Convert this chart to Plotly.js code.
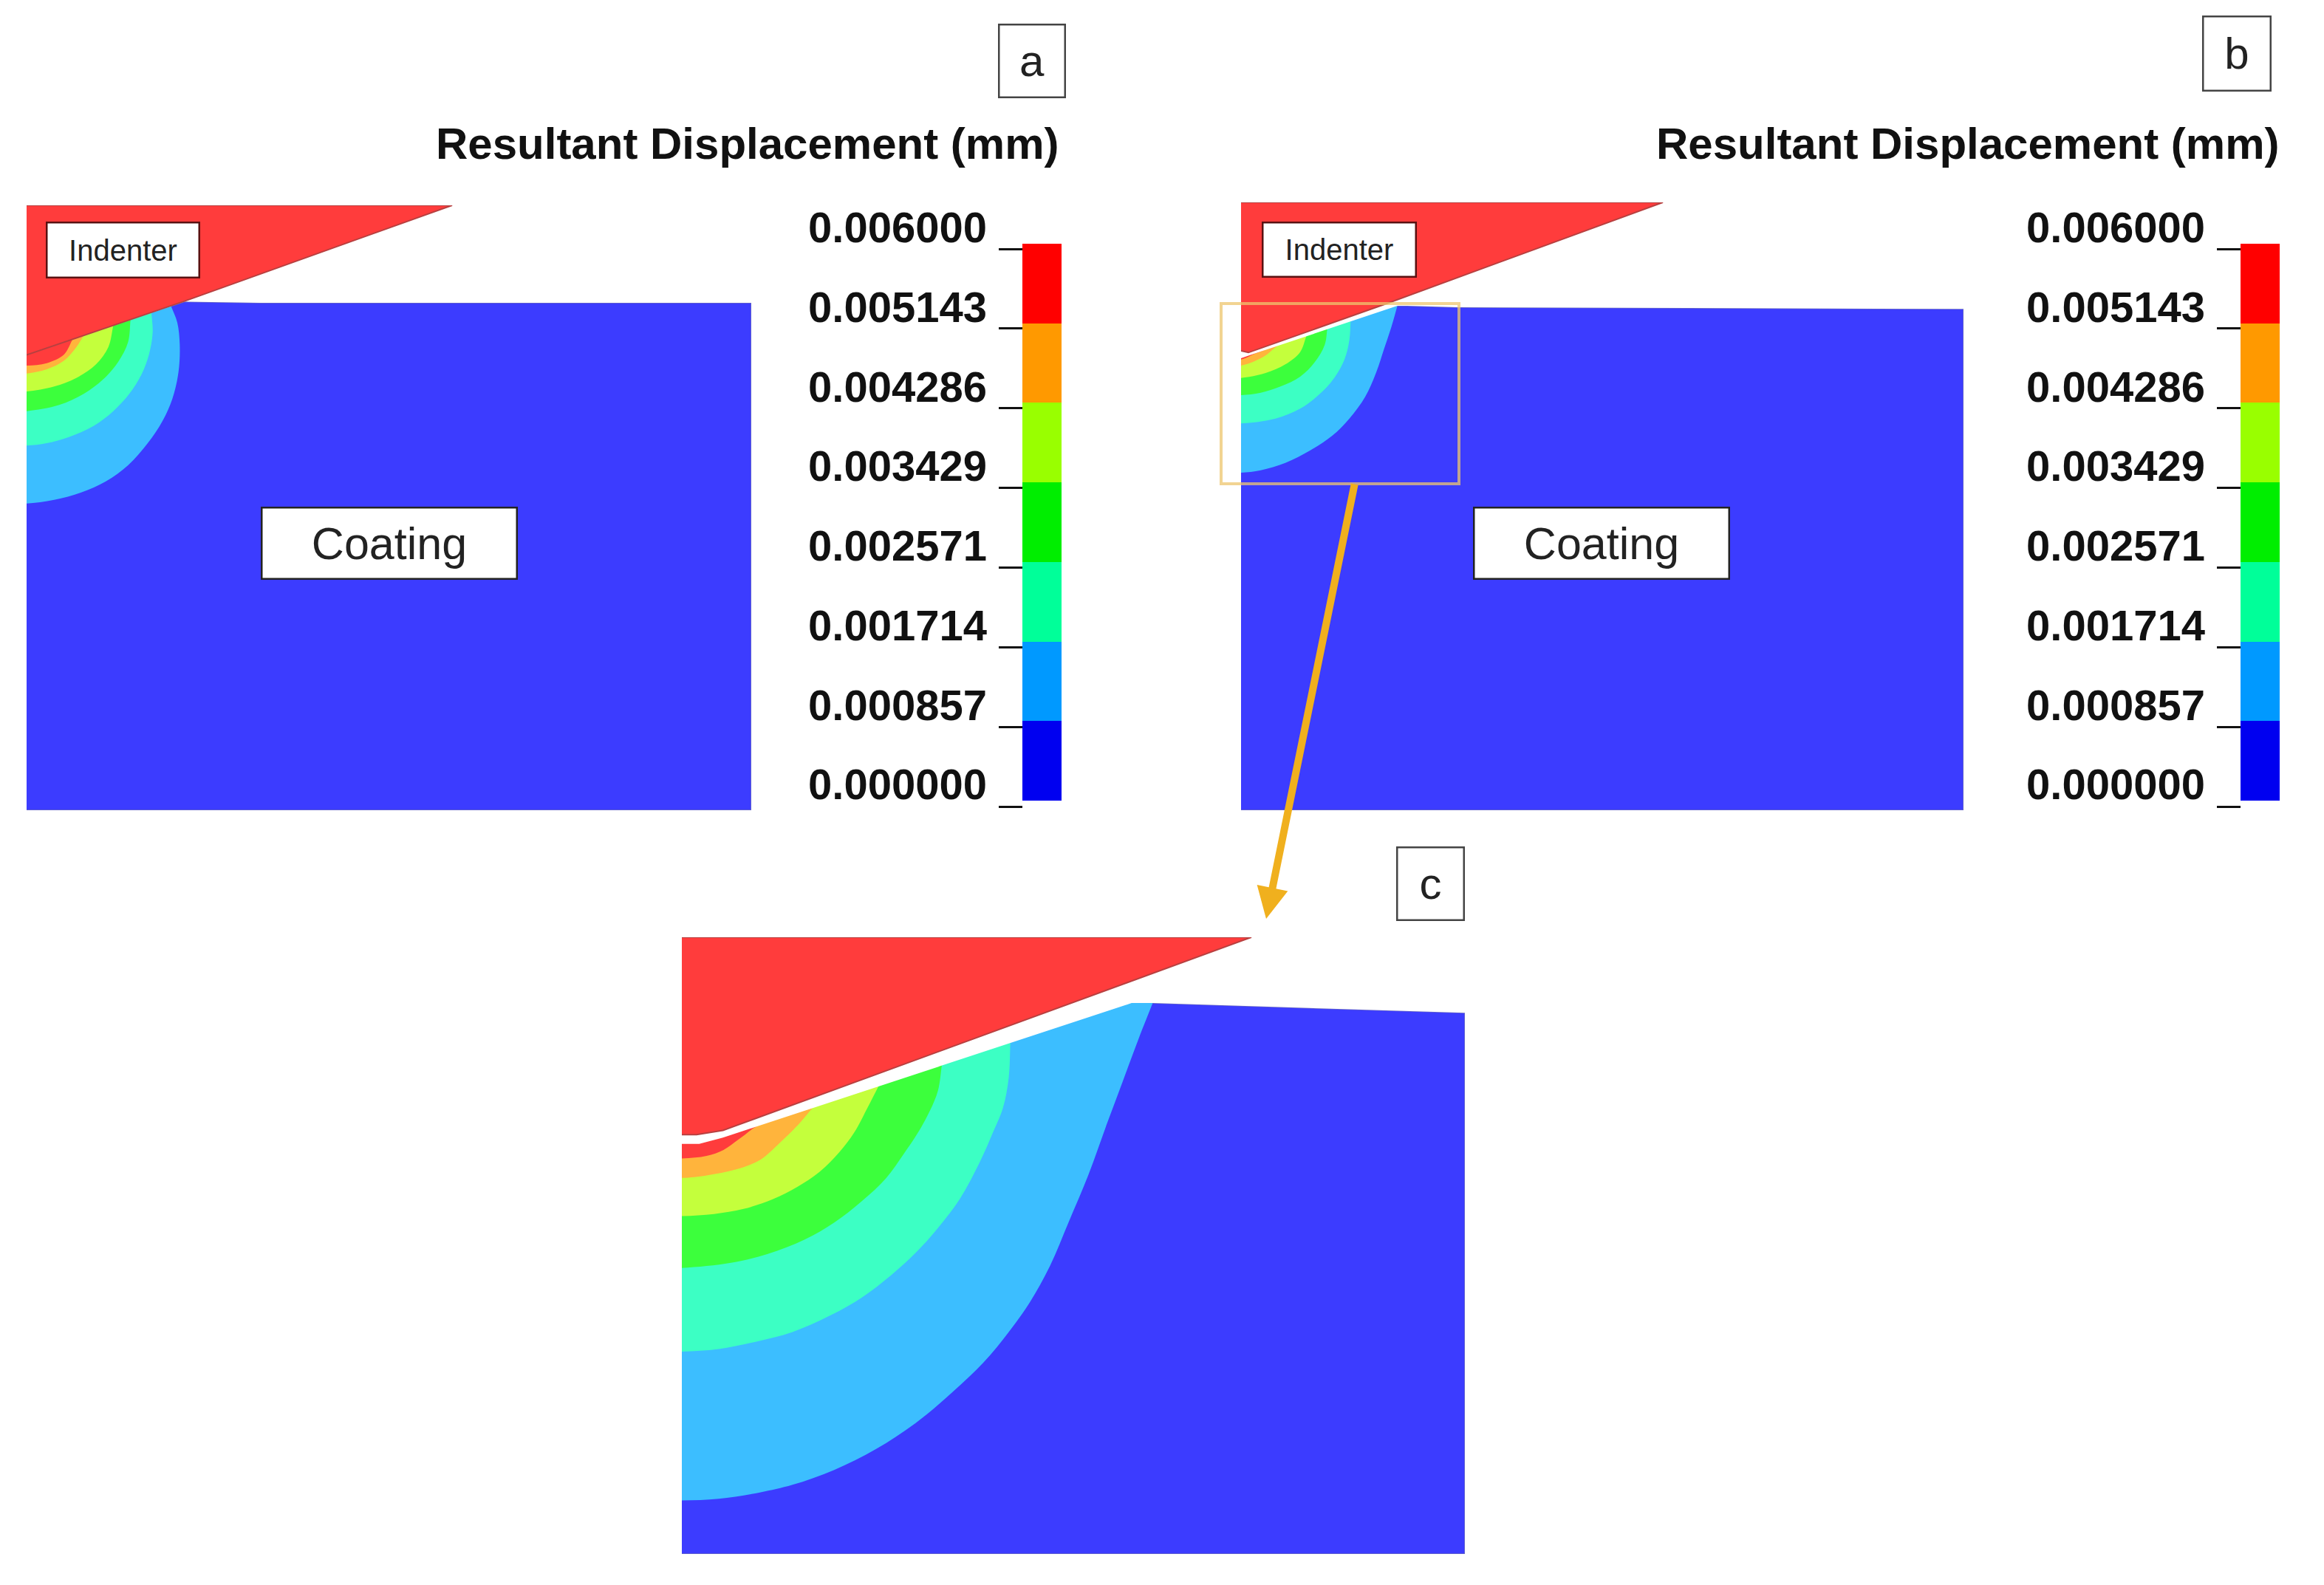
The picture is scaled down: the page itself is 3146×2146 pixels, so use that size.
<!DOCTYPE html>
<html>
<head>
<meta charset="utf-8">
<script src="https://cdn.plot.ly/plotly-3.0.1.min.js"></script>
<style>html,body{margin:0;padding:0;background:#fff}</style>
</head>
<body>
<div id="chart"></div>
<script>
// Colour-scale levels (mm) and labels
const levels = [0, 0.000857, 0.001714, 0.002571, 0.003429, 0.004286, 0.005143, 0.006];
const levelLabels = ["0.000000","0.000857","0.001714","0.002571","0.003429","0.004286","0.005143","0.006000"];
const scaleColors = ["#0000f0","#0099ff","#00ff99","#00ee00","#99ff00","#ff9900","#ff0000"];
const fieldColors = ["#3c3cff","#3cbeff","#3cffc4","#3cff3c","#c4ff3c","#ffb43c","#ff3c3c"];
const indenterColor = "#ff3c3c";

// Panel a : outlines
const aIndenterX = [108,1836,750,290,108];
const aIndenterY = [114,114,503,660,722];
const aCoatingX = [108,290,750,1060,3051,3051,108];
const aCoatingY = [722,660,505,510,510,2571,2571];
const aBandsX = [
  [695,720,730,725,700,660,600,520,430,330,220,108],
  [615,620,605,575,525,460,380,280,190,108],
  [530,520,480,420,340,240,108],
  [460,440,390,310,220,108],
  [340,310,260,190,108],
  [295,260,190,108]
];
const aBandsY = [
  [524,590,680,790,900,990,1080,1170,1235,1280,1310,1325],
  [552,630,720,800,880,950,1010,1055,1080,1090],
  [579,670,750,820,880,925,950],
  [603,690,760,815,850,870],
  [643,690,745,780,797],
  [658,720,755,765]
];

// Panel b
const bIndenterX = [120,1833,720,150,120];
const bIndenterY = [102,102,510,712,705];
const bCoatingX = [120,170,755,795,1000,3054,3054,120];
const bCoatingY = [735,718,522,522,528,535,2571,2571];
const bBandsX = [
  [755,730,700,670,625,560,490,400,300,200,120],
  [565,560,540,495,440,360,260,120],
  [470,460,420,360,280,200,120],
  [385,360,300,220,120],
  [260,210,120],
  [180,120]
];
const bBandsY = [
  [522,610,700,790,890,980,1050,1110,1160,1190,1200],
  [586,660,740,820,880,940,980,1000],
  [617,680,750,810,850,875,885],
  [646,710,760,795,815],
  [691,730,765],
  [715,740]
];

// Panel c (enlarged region of b)
const cIndenterX = [32,1112,110,60,32];
const cIndenterY = [50,50,505,515,515];
const cCoatingX = [32,65,110,885,925,1517,1517,32];
const cCoatingY = [537,537,522,205,205,228,1503,1503];
const cBandsX = [
  [925,898,868,838,803,766,730,692,652,604,545,475,400,321,242,180,102,32],
  [655,652,641,622,597,559,517,475,429,373,312,242,172,102,32],
  [525,518,502,480,452,419,373,321,265,195,125,32],
  [405,384,359,331,293,251,205,149,93,32],
  [280,256,219,181,135,79,32],
  [163,139,111,79,32]
];
const cBandsY = [
  [205,290,390,490,610,720,825,910,980,1052,1122,1195,1256,1305,1340,1358,1373,1377],
  [299,380,452,510,580,667,736,794,846,899,942,980,1003,1020,1026],
  [352,410,460,510,562,618,672,722,762,796,817,829],
  [401,452,510,556,603,638,667,690,702,707],
  [452,487,533,574,597,611,617],
  [504,527,551,565,571]
];

const titleText = "Resultant Displacement (mm)";
const W = 3146, H = 2146;
const dx = (l, r) => [l / W, r / W];
const dy = (t, b) => [1 - b / H, 1 - t / H];
const hidden = (range, domain) => ({range, domain, visible:false, fixedrange:true, showgrid:false, zeroline:false});

const traces = [];
function poly(x, y, color, xa, ya, line) {
  traces.push({type:'scatter', mode:'lines', x, y, xaxis:xa, yaxis:ya, fill:'toself', fillcolor:color,
    line: line || {width:0, color}, hoverinfo:'skip', showlegend:false});
}
function panel(indX, indY, coX, coY, bandsX, bandsY, xa, ya, xRange, yTop) {
  poly(coX, coY, fieldColors[0], xa, ya, {width:1.5, color:'#6a6ac0'});
  const xl = xRange[0];
  bandsX.forEach((bx, i) => {
    const by = bandsY[i], off = 80;
    // the boundary is a smooth curve; its ends run on past the coating edge and are hidden by what is drawn later
    const sx = bx[0] + (bx[0] - bx[1]) * 0.6, sy = by[0] + (by[0] - by[1]) * 0.6;
    const last = by[by.length - 1];
    traces.push({type:'scatter', mode:'lines', xaxis:xa, yaxis:ya, fill:'toself', fillcolor:fieldColors[i + 1],
      x:[xl - off, sx].concat(bx, [xl - off]), y:[sy, sy].concat(by, [last]),
      line:{width:0, shape:'spline', smoothing:1, simplify:false, color:fieldColors[i + 1]}, hoverinfo:'skip', showlegend:false});
  });
  // white space above the coating surface
  const tx = coX.slice(0, -2), ty = coY.slice(0, -2);
  poly(tx.concat([tx[tx.length - 1], tx[0]]), ty.concat([yTop, yTop]), '#ffffff', xa, ya);
  poly(indX, indY, indenterColor, xa, ya, {width:2, color:'#b84040'});
}
panel(aIndenterX, aIndenterY, aCoatingX, aCoatingY, aBandsX, aBandsY, 'x', 'y', [108, 3051], 114);
panel(bIndenterX, bIndenterY, bCoatingX, bCoatingY, bBandsX, bBandsY, 'x2', 'y2', [120, 3054], 102);
panel(cIndenterX, cIndenterY, cCoatingX, cCoatingY, cBandsX, cBandsY, 'x3', 'y3', [32, 1517], 50);

function scale(xa, ybar, ytick, ylab) {
  scaleColors.forEach((c, i) => {
    traces.push({type:'bar', x:[0], y:[levels[i + 1] - levels[i]], base:[levels[i]], width:[1],
      marker:{color:c, line:{width:0}}, xaxis:xa, yaxis:ybar, hoverinfo:'skip', showlegend:false});
  });
  [ytick, ylab].forEach(ya => traces.push({type:'scatter', mode:'markers', x:levels.map(() => 0), y:levels,
    marker:{opacity:0, size:1}, xaxis:xa, yaxis:ya, hoverinfo:'skip', showlegend:false}));
}
scale('x4', 'y4', 'y5', 'y6');
scale('x5', 'y7', 'y8', 'y9');

const tickAxis = (t, b, pos) => ({range:[0, 0.006], domain:dy(t, b), anchor:'free', position:pos / W, overlaying:false,
  tickmode:'array', tickvals:levels, ticktext:levels.map(() => ''), ticks:'outside', ticklen:32, tickwidth:3, tickcolor:'#111',
  showline:false, showgrid:false, zeroline:false, fixedrange:true});
const labelAxis = (t, b, pos) => ({range:[0, 0.006], domain:dy(t, b), anchor:'free', position:pos / W,
  tickmode:'array', tickvals:levels, ticktext:levelLabels, ticks:'',
  tickfont:{family:'"Liberation Sans", Arial, sans-serif', size:58, color:'#111', weight:700},
  showline:false, showgrid:false, zeroline:false, fixedrange:true});

const plain = (text, xc, yc, size, bold) => ({xref:'paper', yref:'paper', x:xc / W, y:1 - yc / H, text, showarrow:false,
  font:{family:'"Liberation Sans", Arial, sans-serif', size, color:'#111', weight:bold ? 700 : 400}, xanchor:'center', yanchor:'middle'});
const boxed = (text, l, t, r, b, size, edge) => ({xref:'paper', yref:'paper', x:(l + r) / 2 / W, y:1 - (t + b) / 2 / H, text, showarrow:false,
  font:{family:'"Liberation Sans", Arial, sans-serif', size, color:'#222'}, xanchor:'center', yanchor:'middle',
  width:r - l - 4, height:b - t - 4, bgcolor:'#fff', bordercolor:edge, borderwidth:2.5, borderpad:0, align:'center', valign:'middle'});

const layout = {
  width:W, height:H, margin:{l:0, r:0, t:0, b:0}, paper_bgcolor:'#fff', plot_bgcolor:'rgba(0,0,0,0)',
  barmode:'overlay', bargap:0, showlegend:false, hovermode:false,
  xaxis: hidden([108, 3051], dx(36, 1017)), yaxis: hidden([2571, 114], dy(278, 1097)),
  xaxis2: hidden([120, 3054], dx(1680, 2658)), yaxis2: hidden([2571, 102], dy(274, 1097)),
  xaxis3: hidden([32, 1517], dx(923, 1983)), yaxis3: hidden([1503, 50], dy(1269, 2104)),
  xaxis4: hidden([-0.5, 0.5], dx(1384, 1437)), yaxis4: hidden([0, 0.006], dy(330, 1084)),
  yaxis5: tickAxis(337, 1092, 1384), yaxis6: labelAxis(308, 1062, 1336),
  xaxis5: hidden([-0.5, 0.5], dx(3033, 3086)), yaxis7: hidden([0, 0.006], dy(330, 1084)),
  yaxis8: tickAxis(337, 1092, 3033), yaxis9: labelAxis(308, 1062, 2985),
  shapes:[
    {type:'rect', xref:'paper', yref:'paper', x0:1653 / W, x1:1975 / W, y0:1 - 411 / H, y1:1 - 655 / H,
     line:{color:'rgba(238,198,110,0.75)', width:4}, fillcolor:'rgba(0,0,0,0)'}
  ],
  annotations:[
    plain(titleText, 1012, 195, 60, true),
    plain(titleText, 2664, 195, 60, true),
    boxed('Indenter', 62, 300, 270, 376, 40, '#5a1010'),
    boxed('Indenter', 1708, 300, 1917, 375, 40, '#5a1010'),
    boxed('Coating', 353, 686, 700, 784, 61, '#222'),
    boxed('Coating', 1994, 686, 2341, 784, 61, '#222'),
    boxed('a', 1351, 32, 1442, 132, 60, '#444'),
    boxed('b', 2981, 22, 3074, 124, 60, '#444'),
    boxed('c', 1890, 1146, 1982, 1246, 60, '#444'),
    {xref:'paper', yref:'paper', x:1714 / W, y:1 - 1244 / H, ax:1834 - 1714, ay:654 - 1244, axref:'pixel', ayref:'pixel',
     text:'', showarrow:true, arrowhead:2, arrowsize:0.85, arrowwidth:10, arrowcolor:'#f0b01e', standoff:0}
  ]
};
Plotly.newPlot('chart', traces, layout, {displayModeBar:false, staticPlot:true});
</script>
</body>
</html>
